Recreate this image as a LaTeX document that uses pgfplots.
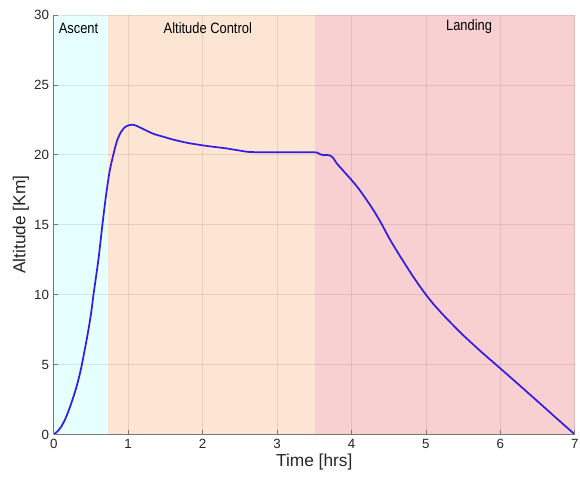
\documentclass[border=0pt]{standalone}
\usepackage{pgfplots}
\pgfplotsset{compat=1.18}
\usepackage{fontspec}
\setmainfont{Liberation Sans}
\usepackage{graphicx}
\definecolor{ascbg}{RGB}{230,255,255}
\definecolor{altbg}{RGB}{253,229,212}
\definecolor{landbg}{RGB}{249,208,210}
\definecolor{curve}{RGB}{52,28,228}
\definecolor{axcol}{RGB}{120,120,120}
\definecolor{txtcol}{RGB}{38,38,38}
\begin{document}
\begin{tikzpicture}
\path[use as bounding box] (-40.3pt,-34.9pt) rectangle (394.7pt,325.85pt);
\begin{axis}[
  scale only axis,
  width=390.8pt, height=314.6pt,
  xmin=0, xmax=7, ymin=0, ymax=30,
  xtick={0,1,...,7}, ytick={0,5,...,30},
  axis x line*=bottom, axis y line*=left,
  axis line style={axcol, line width=0.6pt},
  tick style={axcol, line width=0.5pt},
  major tick length=3.5pt,
  tick align=inside,
  grid=major,
  major grid style={black, opacity=0.09, line width=0.5pt},
  axis on top,
  tick label style={font=\fontsize{10}{12}\selectfont, text=txtcol},
  /pgf/number format/assume math mode=true,
  xlabel={Time [hrs]}, ylabel={Altitude [Km]},
  label style={font=\fontsize{13}{15}\selectfont, text=txtcol},
  xlabel style={yshift=3pt},
  ylabel style={yshift=-3pt},
]
\addplot[fill=ascbg, draw=none] coordinates {(0,0) (0.727,0) (0.727,30) (0,30)} -- cycle;
\addplot[fill=altbg, draw=none] coordinates {(0.727,0) (3.51,0) (3.51,30) (0.727,30)} -- cycle;
\addplot[fill=landbg, draw=none] coordinates {(3.51,0) (7,0) (7,30) (3.51,30)} -- cycle;
\addplot[curve, line width=1.3pt, smooth, tension=0.4] coordinates {
(0,0) (0.05,0.22) (0.1,0.55) (0.15,1.05) (0.2,1.7) (0.25,2.45) (0.3,3.3) (0.34,4.1)
(0.378,5.0) (0.45,7.0) (0.5,8.6) (0.534,10.0) (0.6,12.5) (0.654,15.0) (0.7,17.0)
(0.75,18.8) (0.8,20.0) (0.85,21.0) (0.9,21.6) (0.95,21.95) (1.0,22.1) (1.05,22.15)
(1.1,22.1) (1.2,21.85) (1.34,21.5) (1.5,21.25) (1.61,21.08) (1.8,20.85) (2.01,20.67)
(2.15,20.57) (2.32,20.46) (2.5,20.3) (2.64,20.2) (3.0,20.18) (3.5,20.18) (3.55,20.12)
(3.6,20.0) (3.7,19.97) (3.75,19.8) (3.8,19.4) (3.9,18.8) (4.0,18.2) (4.1,17.55)
(4.2,16.8) (4.3,16.0) (4.4,15.1) (4.5,14.1) (4.6,13.2) (4.7,12.35) (4.8,11.52)
(4.9,10.73) (5.0,10.0) (5.1,9.33) (5.25,8.45) (5.5,7.1) (5.75,5.88) (6.0,4.72) (6.25,3.55)
(6.5,2.37) (6.75,1.18) (7.0,0)
};
\node[font=\fontsize{11.25}{13}\selectfont, text=black] at (axis cs:0.333,29.07) {\scalebox{0.86}[1]{Ascent}};
\node[font=\fontsize{11.25}{13}\selectfont, text=black] at (axis cs:2.07,29.07) {\scalebox{0.86}[1]{Altitude Control}};
\node[font=\fontsize{11.25}{13}\selectfont, text=black] at (axis cs:5.58,29.2) {\scalebox{0.86}[1]{Landing}};
\end{axis}
\end{tikzpicture}
\end{document}
